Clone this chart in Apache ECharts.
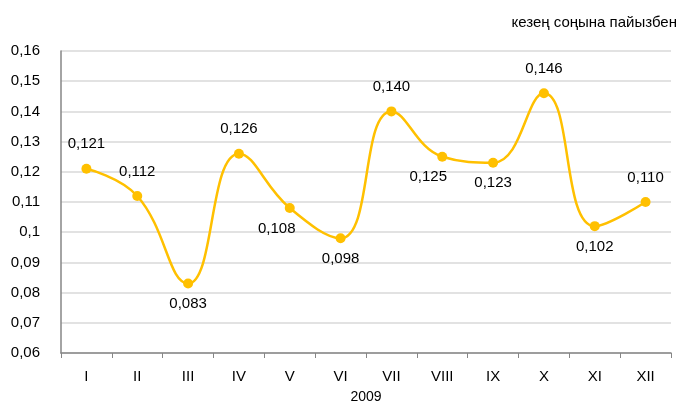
<!DOCTYPE html>
<html><head><meta charset="utf-8">
<script src="https://cdn.jsdelivr.net/npm/echarts@6/dist/echarts.min.js"></script>
<style>html,body{margin:0;padding:0;background:#fff}#c{width:683px;height:401px}</style>
</head><body><div id="c"></div>
<script>
const categories = ['I','II','III','IV','V','VI','VII','VIII','IX','X','XI','XII'];
const values = [0.121,0.112,0.083,0.126,0.108,0.098,0.140,0.125,0.123,0.146,0.102,0.110];
const unitText = 'кезең соңына пайызбен';
const xName = '2009';
// label placement style (not data)
const labelPos = ['top','top','bottom','top','bottom','bottom','top','bottom','bottom','top','bottom','top'];
const labelShift = {4:-13, 7:-14};
const fmt = v => String(v.toFixed(3)).replace('.', ',');
const font = 'Liberation Sans, Arial, sans-serif';
const chart = echarts.init(document.getElementById('c'));
chart.setOption({
  animation:false,
  title:{text:unitText,right:1,top:10,textStyle:{fontFamily:font,fontSize:15,fontWeight:'normal',color:'#000'}},
  grid:{left:61,right:12,top:51,bottom:48,outerBoundsMode:'none',containLabel:false},
  xAxis:{type:'category',data:categories,boundaryGap:true,
    name:xName,nameLocation:'middle',nameGap:37,nameTextStyle:{fontFamily:font,fontSize:14,color:'#000',verticalAlign:'top'},
    axisLine:{lineStyle:{color:'#868686',width:1.5}},
    axisTick:{show:true,length:5,lineStyle:{color:'#868686'}},
    axisLabel:{fontFamily:font,fontSize:15,color:'#000',margin:16}},
  yAxis:{type:'value',min:0.06,max:0.16,interval:0.01,
    axisLine:{show:true,lineStyle:{color:'#868686',width:1.5}},
    axisTick:{show:false},
    splitLine:{lineStyle:{color:'#d9d9d9',width:1.5}},
    axisLabel:{fontFamily:font,fontSize:15,color:'#000',margin:21,
      formatter:v=>String(parseFloat(v.toFixed(2))).replace('.',',')}},
  series:[{type:'line',smooth:0.45,
    data:values.map((v,i)=>({value:v,label:{position:labelPos[i],distance:labelPos[i]==='top'?12:8,offset:[labelShift[i]||0,0]}})),
    symbol:'circle',symbolSize:10,
    lineStyle:{color:'#FFC000',width:2.5},
    itemStyle:{color:'#FFC000'},
    label:{show:true,fontFamily:font,fontSize:15,color:'#000',formatter:p=>fmt(p.value)}}]
});
</script></body></html>
